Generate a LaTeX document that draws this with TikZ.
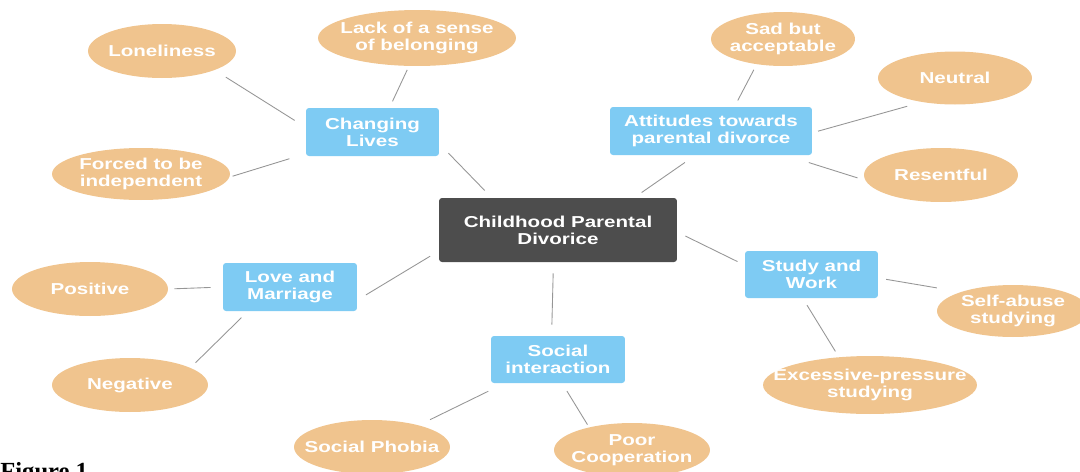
\documentclass[tikz,border=0pt]{standalone}
\usepackage{fontspec}
\setmainfont{Liberation Sans}[FakeStretch=1.3]
\newfontfamily\captionfont{Liberation Serif}
\usepackage{tikz}
\usetikzlibrary{shapes.geometric}
\usepackage{xcolor}
\definecolor{hubgray}{RGB}{77,77,77}
\definecolor{topicblue}{RGB}{126,203,243}
\definecolor{leaforange}{RGB}{240,196,142}
\definecolor{linegray}{RGB}{150,150,150}

\begin{document}
\begin{tikzpicture}[x=0.02cm, y=-0.02cm,
        every node/.style={text=white, align=center, inner sep=0pt, font=\bfseries\fontsize{9}{9.6}\selectfont},
        center node/.style={fill=hubgray, rounded corners=0.06cm, minimum width=4.76cm, minimum height=1.28cm},
        topic node/.style={fill=topicblue, rounded corners=0.06cm, minimum width=2.68cm, minimum height=0.96cm},
        leaf node/.style={ellipse, fill=leaforange, inner xsep=-1cm, inner ysep=-0.2cm, minimum width=3.12cm, minimum height=1.08cm},
        link/.style={draw=linegray, line width=0.5pt}
    ]
        \useasboundingbox (0,0) rectangle (1080,471);

        \node[center node] (c) at (558,230) {Childhood Parental\\Divorice};

        \node[topic node, minimum width=2.66cm] (chg) at (372.5,132) {Changing\\Lives};
        \node[topic node, minimum width=4.04cm] (att) at (711,131) {Attitudes towards\\parental divorce};
        \node[topic node] (love) at (290,287) {Love and\\Marriage};
        \node[topic node, minimum width=2.66cm, minimum height=0.94cm] (study) at (811.5,274.5) {Study and\\Work};
        \node[topic node, minimum height=0.94cm] (soc) at (558,359.5) {Social\\interaction};

        \node[leaf node, minimum width=2.96cm] (lone) at (162,51) {Loneliness};
        \node[leaf node, minimum width=3.96cm, minimum height=1.12cm] (lack) at (417,38) {Lack of a sense\\of belonging};
        \node[leaf node, minimum width=3.56cm, minimum height=1.04cm] (forced) at (141,174) {Forced to be\\independent};
        \node[leaf node, minimum width=2.88cm] (sad) at (783,39) {Sad but\\acceptable};
        \node[leaf node, minimum width=3.08cm, minimum height=1.06cm] (neutral) at (955,78) {Neutral};
        \node[leaf node, minimum width=3.08cm] (resent) at (941,175) {Resentful};
        \node[leaf node, minimum width=3.04cm, minimum height=1.04cm] (self) at (1013,311) {Self-abuse\\studying};
        \node[leaf node, minimum width=4.28cm, minimum height=1.16cm] (excess) at (870,385) {Excessive-pressure\\studying};
        \node[leaf node] (pos) at (90,289) {Positive};
        \node[leaf node] (neg) at (130,385) {Negative};
        \node[leaf node] (phobia) at (372,447) {Social Phobia};
        \node[leaf node] (poor) at (632,450) {Poor\\Cooperation};

        \node[anchor=base west, text=black, font=\captionfont\bfseries\fontsize{14}{14}\selectfont] (fig) at (0,479) {Figure 1};

        \draw[link, shorten <=0.26cm, shorten >=0.26cm] (chg.176) -- (lone.-20);
        \draw[link, shorten <=0.14cm, shorten >=0.08cm] (chg.55) -- (lack.-106);
        \draw[link, shorten <=0.34cm, shorten >=0.06cm] (chg.198) -- (forced.-2);
        \draw[link, shorten <=0.20cm, shorten >=0.26cm] (c.154) -- (chg.-10);
        \draw[link, shorten <=0.14cm, shorten >=0.12cm] (att.46) -- (sad.-136);
        \draw[link, shorten <=0.12cm, shorten >=0.30cm] (att.-1) -- (neutral.-144);
        \draw[link, shorten <=0.48cm, shorten >=0.16cm] (att.-18) -- (resent.184);
        \draw[link, shorten <=0.18cm, shorten >=0.25cm] (c.23.5) -- (att.-123);
        \draw[link, shorten <=0.18cm, shorten >=0.16cm] (c.-1) -- (study.172);
        \draw[link, shorten <=0.16cm, shorten >=0.48cm] (study.-3) -- (self.160);
        \draw[link, shorten <=0.16cm, shorten >=0.13cm] (study.-110) -- (excess.138);
        \draw[link, shorten <=0.22cm, shorten >=0.22cm] (c.-98) -- (soc.105);
        \draw[link, shorten <=0.36cm, shorten >=0.25cm] (soc.-156) -- (phobia.25);
        \draw[link, shorten <=0.18cm, shorten >=0.06cm] (soc.-80) -- (poor.152);
        \draw[link, shorten <=0.20cm, shorten >=0.20cm] (c.-170) -- (love.-11);
        \draw[link, shorten <=0.24cm, shorten >=0.12cm] (love.180) -- (pos.0);
        \draw[link, shorten <=0.18cm, shorten >=0.14cm] (love.-150) -- (neg.16);
    \end{tikzpicture}
\end{document}
